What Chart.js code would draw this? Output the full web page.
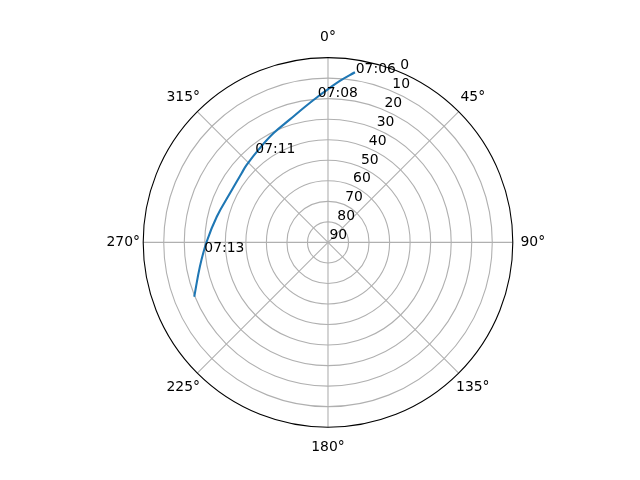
<!DOCTYPE html>
<html>
<head>
<meta charset="utf-8">
<script src="https://cdn.jsdelivr.net/npm/chart.js@4"></script>
<style>
html,body{margin:0;padding:0;background:#fff;}
#wrap{width:640px;height:480px;}
</style>
</head>
<body>
<div id="wrap"><canvas id="c" width="640" height="480"></canvas></div>
<script>
// Satellite pass: azimuth (deg, clockwise from North) and elevation (deg)
const azimuth   = [9.0, 4.2, 359.7, 355.7, 350.4, 342.8, 333.4, 323.5, 313.6, 308.7, 296.6, 283.0, 270.3, 259.3, 247.9];
const elevation = [6.1, 11.1, 15.7, 19.1, 23.0, 27.3, 30.6, 33.5, 35.3, 36.1, 36.6, 34.4, 30.9, 26.5, 19.7];

// Time annotations
const annTimes = ['07:06', '07:08', '07:11', '07:13'];
const annAz    = [9.3, 356.0, 320.8, 265.7];
const annEl    = [6.3, 18.9, 34.0, 29.6];

// Tick labels
const radialTicks = [0, 10, 20, 30, 40, 50, 60, 70, 80, 90];
const angleTicks  = [0, 45, 90, 135, 180, 225, 270, 315];
const rLabelAngle = 22.5;

const toXY = (az, el) => {
  const r = 90 - el, a = az * Math.PI / 180;
  return {x: r * Math.sin(a), y: r * Math.cos(a)};
};
const points = azimuth.map((a, i) => toXY(a, elevation[i]));

const FONT = '13.9px "DejaVu Sans"';

const polarGrid = {
  id: 'polarGrid',
  beforeDatasetsDraw(chart) {
    const {ctx, scales: {x, y}} = chart;
    const cx = x.getPixelForValue(0), cy = y.getPixelForValue(0);
    const rad = v => x.getPixelForValue(v) - cx;
    ctx.save();
    ctx.strokeStyle = '#b0b0b0';
    ctx.lineWidth = 1.1;
    radialTicks.forEach(t => {
      const r = rad(90 - t);
      if (t === 0 || t === 90) return;
      ctx.beginPath(); ctx.arc(cx, cy, r, 0, 2 * Math.PI); ctx.stroke();
    });
    const R = rad(90);
    angleTicks.forEach(a => {
      const ar = a * Math.PI / 180;
      ctx.beginPath();
      ctx.moveTo(cx, cy);
      ctx.lineTo(cx + R * Math.sin(ar), cy - R * Math.cos(ar));
      ctx.stroke();
    });
    ctx.restore();
  },
  afterDatasetsDraw(chart) {
    const {ctx, scales: {x, y}} = chart;
    const cx = x.getPixelForValue(0), cy = y.getPixelForValue(0);
    const rad = v => x.getPixelForValue(v) - cx;
    const R = rad(90);
    ctx.save();
    ctx.strokeStyle = '#000';
    ctx.lineWidth = 1.1;
    ctx.beginPath(); ctx.arc(cx, cy, R, 0, 2 * Math.PI); ctx.stroke();

    ctx.fillStyle = '#000';
    ctx.font = FONT;
    // angle labels
    ctx.textAlign = 'center';
    ctx.textBaseline = 'middle';
    angleTicks.forEach(a => {
      const ar = a * Math.PI / 180, rr = R + 20;
      ctx.fillText(a + '\u00b0', cx + rr * Math.sin(ar), cy - rr * Math.cos(ar));
    });
    // radial labels
    ctx.textAlign = 'left';
    ctx.textBaseline = 'alphabetic';
    const la = rLabelAngle * Math.PI / 180;
    radialTicks.forEach(t => {
      const r = rad(90 - t);
      ctx.fillText(String(t), cx + r * Math.sin(la) + 1.5, cy - r * Math.cos(la) - 3);
    });
    // time annotations
    annTimes.forEach((s, i) => {
      const p = toXY(annAz[i], annEl[i]);
      ctx.fillText(s, x.getPixelForValue(p.x), y.getPixelForValue(p.y));
    });
    ctx.restore();
  }
};

new Chart(document.getElementById('c'), {
  type: 'scatter',
  data: {
    datasets: [{
      data: points,
      showLine: true,
      borderColor: '#1f77b4',
      borderWidth: 2.1,
      pointRadius: 0,
      tension: 0.4,
      fill: false
    }]
  },
  options: {
    responsive: false,
    maintainAspectRatio: false,
    animation: false,
    devicePixelRatio: 1,
    layout: {padding: {left: 143.2, right: 127.2, top: 57.6, bottom: 52.8}},
    plugins: {legend: {display: false}, tooltip: {enabled: false}},
    scales: {
      x: {type: 'linear', min: -90, max: 90, display: false},
      y: {type: 'linear', min: -90, max: 90, display: false}
    }
  },
  plugins: [polarGrid]
});
</script>
</body>
</html>
